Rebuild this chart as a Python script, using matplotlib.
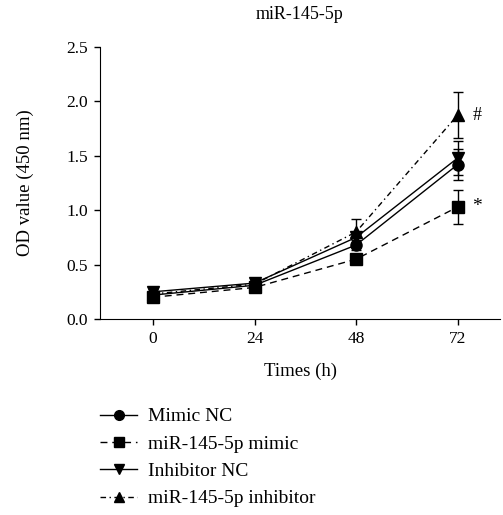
import numpy as np
import matplotlib.pyplot as plt
from matplotlib.lines import Line2D

plt.rcParams['font.family'] = ['Liberation Serif', 'DejaVu Serif']

# data
times = [0, 24, 48, 72]
mimic_nc = [0.22, 0.31, 0.68, 1.42]
mimic_nc_err = [0.03, 0.03, 0.05, 0.14]
mimic = [0.20, 0.29, 0.55, 1.03]
mimic_err = [0.03, 0.02, 0.03, 0.155]
inhib_nc = [0.25, 0.33, 0.75, 1.48]
inhib_nc_err = [0.03, 0.03, 0.05, 0.16]
inhib = [0.23, 0.32, 0.80, 1.875]
inhib_err = [0.03, 0.03, 0.12, 0.215]

series = [
    ("Mimic NC", mimic_nc, mimic_nc_err, "-", "o", 8),
    ("miR-145-5p mimic", mimic, mimic_err, (0, (5, 3.5)), "s", 8),
    ("Inhibitor NC", inhib_nc, inhib_nc_err, "-", "v", 8.5),
    ("miR-145-5p inhibitor", inhib, inhib_err, (0, (4, 2.5, 1, 2.5)), "^", 8.5),
]

fig = plt.figure(figsize=(5.03, 5.15), dpi=100)
ax = fig.add_axes([0.199, 0.3806, 0.795, 0.528])

handles = []
for name, y, e, ls, mk, ms in series:
    ax.errorbar(times, y, yerr=e, color='black', linestyle=ls, marker=mk,
                markersize=ms, linewidth=1, elinewidth=1, capsize=3.5)
    handles.append(Line2D([], [], color='black', linestyle=ls, marker=mk,
                          markersize=ms - 1, linewidth=1, label=name))

ax.text(75.5, 1.875, "#", fontsize=13, va='center')
ax.text(75.5, 1.03, "*", fontsize=14, va='center')

ax.set_xlim(-12.5, 82)
ax.set_ylim(0, 2.5)
ax.set_xticks(times)
ax.set_yticks([0.0, 0.5, 1.0, 1.5, 2.0, 2.5])
ax.set_yticklabels(["0.0", "0.5", "1.0", "1.5", "2.0", "2.5"])
ax.spines['top'].set_visible(False)
ax.spines['right'].set_visible(False)
ax.tick_params(labelsize=12.5, direction='out', length=4, width=1, pad=5)
ax.set_xlabel("Times (h)", fontsize=13.5, labelpad=11)
ax.set_ylabel("OD value (450 nm)", fontsize=13.5)
ax.yaxis.set_label_coords(-0.165, 0.5)
ax.set_title("miR-145-5p", fontsize=13, pad=20)

fig.legend(handles=handles, loc='upper left', bbox_to_anchor=(0.199, 0.208),
           frameon=False, fontsize=14, handlelength=1.9, labelspacing=0.5,
           handletextpad=0.55, borderpad=0, borderaxespad=0)

fig.savefig("out.png", dpi=100)
